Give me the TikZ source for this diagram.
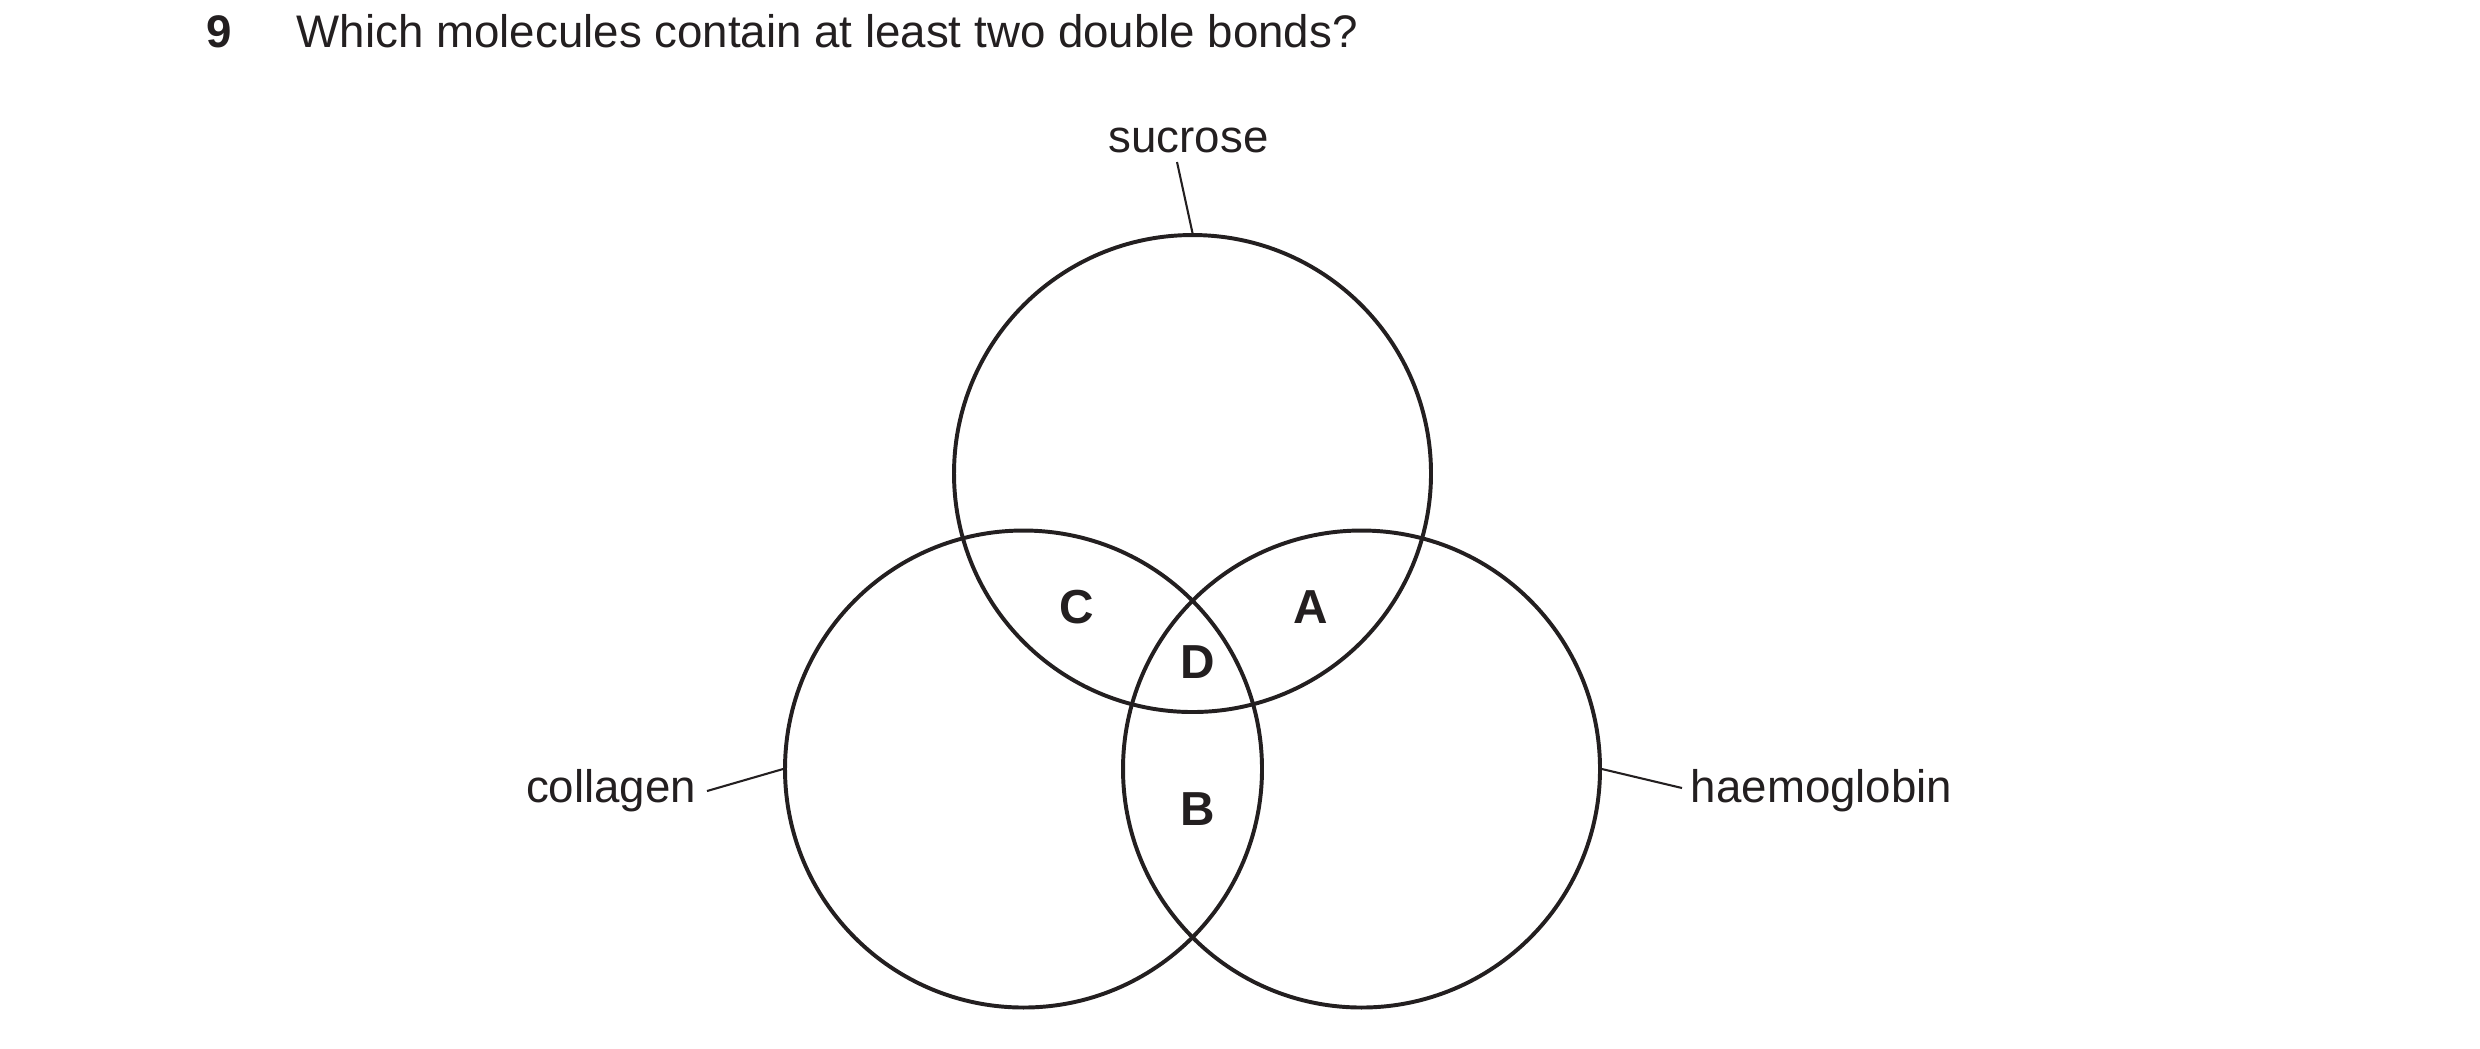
\documentclass[tikz,border=0pt]{standalone}
\usepackage{fontspec}
\setmainfont{Liberation Sans}
\definecolor{ink}{HTML}{231F20}
\begin{document}
\begin{tikzpicture}[x=0.0846667mm,y=-0.0846667mm,
  set/.style={circle,draw=ink,line width=0.95pt,minimum size=40.386mm,inner sep=0pt},
  lbl/.style={font=\fontsize{11}{13}\selectfont,text=ink,inner sep=0pt},
  region/.style={font=\fontsize{11.5}{13}\selectfont\bfseries,text=ink,inner sep=0pt,anchor=center},
  leader/.style={draw=ink,line width=0.5pt}]
\useasboundingbox (0,0) rectangle (2480,1048);
% title
\node[lbl,font=\fontsize{11}{13}\selectfont\bfseries,anchor=base west] (num) at (206,47) {9};
\node[lbl,anchor=base west] (q) at (296,47) {Which molecules contain at least two double bonds?};
% circles
\node[set] (top) at (1192.5,473.5) {};
\node[set] (left) at (1023.5,769) {};
\node[set] (right) at (1361.5,769) {};
% region letters
\node[region] (C) at (1077,607) {C};
\node[region] (A) at (1311,607) {A};
\node[region] (D) at (1197.5,662.5) {D};
\node[region] (B) at (1197.5,809) {B};
% labels
\node[lbl,anchor=base] (sucrose) at (1188.5,152) {sucrose};
\node[lbl,anchor=base east] (collagen) at (697,802) {collagen};
\node[lbl,anchor=base west] (haem) at (1690,802) {haemoglobin};
% leader lines
\coordinate (sL) at (1177,162);
\coordinate (cL) at (707,791);
\coordinate (hL) at (1682,788);
\draw[leader] (sL) -- (top.north);
\draw[leader] (cL) -- (left.west);
\draw[leader] (right.east) -- (hL);
\end{tikzpicture}
\end{document}
